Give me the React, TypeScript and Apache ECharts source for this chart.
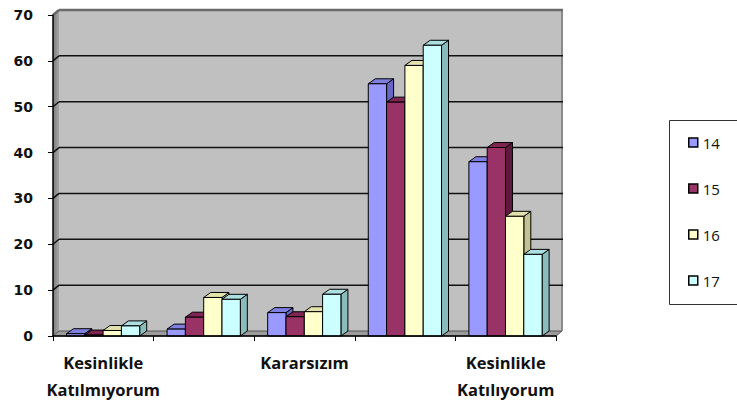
import React, { useEffect, useRef } from "react";
import * as echarts from "echarts";

// Response categories (every other label is shown on the axis)
const CATEGORIES = [
  "Kesinlikle\nKatılmıyorum",
  "Katılmıyorum",
  "Kararsızım",
  "Katılıyorum",
  "Kesinlikle\nKatılıyorum",
];

const SERIES_NAMES = ["14", "15", "16", "17"];

const VALUES_14 = [0.5, 1.5, 5.1, 55.0, 38.0];
const VALUES_15 = [0.2, 4.1, 4.2, 51.0, 41.1];
const VALUES_16 = [1.2, 8.4, 5.3, 59.0, 26.1];
const VALUES_17 = [2.2, 8.0, 9.1, 63.4, 17.8];

const Y_TICKS = [0, 10, 20, 30, 40, 50, 60, 70];

// front / top / side face colours for each series
const FACE_COLORS = [
  { front: "#9999FF", top: "#7f7fe0", side: "#6666c4" },
  { front: "#993366", top: "#7e2552", side: "#5e1a3c" },
  { front: "#FFFFCC", top: "#e2e2ad", side: "#c2c292" },
  { front: "#CCFFFF", top: "#ace0e0", side: "#8bbcbc" },
];

const ALL_VALUES = [VALUES_14, VALUES_15, VALUES_16, VALUES_17];

// 3D depth offsets (pixels)
const BAR_DX = 7;
const BAR_DY = -5;
const WALL_DX = 6;
const WALL_DY = -5;

export default function App() {
  const ref = useRef<HTMLDivElement>(null);

  useEffect(() => {
    if (!ref.current) return;
    const chart = echarts.init(ref.current, null, { renderer: "svg" });

    const yMax = Y_TICKS[Y_TICKS.length - 1];

    const wallSeries = {
      type: "custom",
      name: "walls",
      z: 1,
      silent: true,
      clip: false,
      data: [[0, 0]],
      renderItem: (params: any, api: any) => {
        const catW = api.size([1, 0])[0];
        const L = api.coord([0, 0])[0] - catW / 2;
        const R = api.coord([CATEGORIES.length - 1, 0])[0] + catW / 2;
        const B = api.coord([0, 0])[1];
        const T = api.coord([0, yMax])[1];
        const children: any[] = [];
        // left wall
        children.push({
          type: "polygon",
          shape: {
            points: [
              [L, T],
              [L + WALL_DX, T + WALL_DY],
              [L + WALL_DX, B + WALL_DY],
              [L, B],
            ],
          },
          style: {
            fill: new echarts.graphic.LinearGradient(0, 0, 1, 0, [
              { offset: 0, color: "#7c7c7c" },
              { offset: 1, color: "#a6a6a6" },
            ]),
          },
        });
        // back wall
        children.push({
          type: "rect",
          shape: {
            x: L + WALL_DX,
            y: T + WALL_DY,
            width: R - L,
            height: B - T,
          },
          style: { fill: "#C0C0C0" },
        });
        // floor
        children.push({
          type: "polygon",
          shape: {
            points: [
              [L, B],
              [L + WALL_DX, B + WALL_DY],
              [R + WALL_DX, B + WALL_DY],
              [R, B],
            ],
          },
          style: { fill: "#9c9c9c", stroke: "#555", lineWidth: 1 },
        });
        // right edge of the back wall
        children.push({
          type: "line",
          shape: { x1: R + WALL_DX, y1: T + WALL_DY, x2: R + WALL_DX, y2: B + WALL_DY },
          style: { stroke: "#8a8a8a", lineWidth: 2 },
        });
        // gridlines on the back and left walls
        Y_TICKS.forEach((v) => {
          if (v === 0) return;
          const y = api.coord([0, v])[1];
          const top = v === yMax;
          const stroke = top ? "#6a6a6a" : "#111";
          const lw = top ? 2.5 : 1.5;
          children.push({
            type: "line",
            shape: { x1: L + WALL_DX, y1: y + WALL_DY, x2: R + WALL_DX + 1, y2: y + WALL_DY },
            style: { stroke, lineWidth: lw },
          });
          children.push({
            type: "line",
            shape: { x1: L, y1: y, x2: L + WALL_DX, y2: y + WALL_DY },
            style: { stroke, lineWidth: lw },
          });
        });
        return { type: "group", children };
      },
    };

    const barSeries = ALL_VALUES.map((vals, i) => ({
      type: "custom",
      name: SERIES_NAMES[i],
      z: 2,
      clip: false,
      itemStyle: { color: FACE_COLORS[i].front, borderColor: "#000", borderWidth: 1.5 },
      data: vals.map((v, k) => [k, v]),
      renderItem: (params: any, api: any) => {
        const k = api.value(0);
        const v = api.value(1);
        const catW = api.size([1, 0])[0];
        const center = api.coord([k, 0])[0];
        const bw = catW * 0.182;
        const x0 = center - catW / 2 + catW * 0.134 + i * bw;
        const y0 = api.coord([k, 0])[1];
        const yt = api.coord([k, v])[1];
        const c = FACE_COLORS[i];
        const stroke = { stroke: "#000", lineWidth: 1 };
        return {
          type: "group",
          children: [
            {
              type: "polygon",
              shape: {
                points: [
                  [x0 + bw, yt],
                  [x0 + bw + BAR_DX, yt + BAR_DY],
                  [x0 + bw + BAR_DX, y0 + BAR_DY],
                  [x0 + bw, y0],
                ],
              },
              style: { fill: c.side, ...stroke },
            },
            {
              type: "polygon",
              shape: {
                points: [
                  [x0, yt],
                  [x0 + BAR_DX, yt + BAR_DY],
                  [x0 + bw + BAR_DX, yt + BAR_DY],
                  [x0 + bw, yt],
                ],
              },
              style: { fill: c.top, ...stroke },
            },
            {
              type: "rect",
              shape: { x: x0, y: yt, width: bw, height: y0 - yt },
              style: { fill: c.front, ...stroke },
            },
          ],
        };
      },
    }));

    chart.setOption({
      animation: false,
      grid: { left: 53, top: 15, width: 503, height: 321 },
      xAxis: {
        type: "category",
        data: CATEGORIES,
        boundaryGap: true,
        axisLine: { show: true, lineStyle: { color: "#000", width: 1.5 } },
        axisTick: { show: true, interval: 0, length: 5, lineStyle: { color: "#000" } },
        axisLabel: {
          interval: 1,
          margin: 13,
          color: "#111",
          fontFamily: "Open Sans",
          fontWeight: "bold",
          fontSize: 16.5,
          lineHeight: 27,
        },
        splitLine: { show: false },
        z: 5,
      },
      yAxis: {
        type: "value",
        min: 0,
        max: 70,
        interval: 10,
        axisLine: { show: true, lineStyle: { color: "#000", width: 1.5 } },
        axisTick: { show: true, length: 5, lineStyle: { color: "#000" } },
        axisLabel: {
          margin: 20,
          color: "#111",
          fontFamily: "DejaVu Sans",
          fontWeight: "bold",
          fontSize: 14,
        },
        splitLine: { show: false },
        z: 5,
      },
      legend: {
        data: SERIES_NAMES,
        orient: "vertical",
        left: 688,
        top: 135,
        padding: 0,
        itemGap: 31,
        itemWidth: 9,
        itemHeight: 9,
        icon: "rect",
        itemStyle: { borderColor: "#000", borderWidth: 1.5 },
        textStyle: { fontFamily: "Open Sans", fontSize: 15, color: "#111", padding: [0, 0, 0, 0] },
        selectedMode: false,
      },
      graphic: [
        {
          type: "rect",
          shape: { x: 669.5, y: 120.5, width: 80, height: 184 },
          style: { fill: "#fff", stroke: "#333", lineWidth: 1 },
          z: -1,
        },
      ],
      series: [wallSeries, ...barSeries],
    });

    return () => chart.dispose();
  }, []);

  return (
    <div
      ref={ref}
      style={{ position: "fixed", left: 0, top: 0, width: 737, height: 403, background: "#fff" }}
    />
  );
}
